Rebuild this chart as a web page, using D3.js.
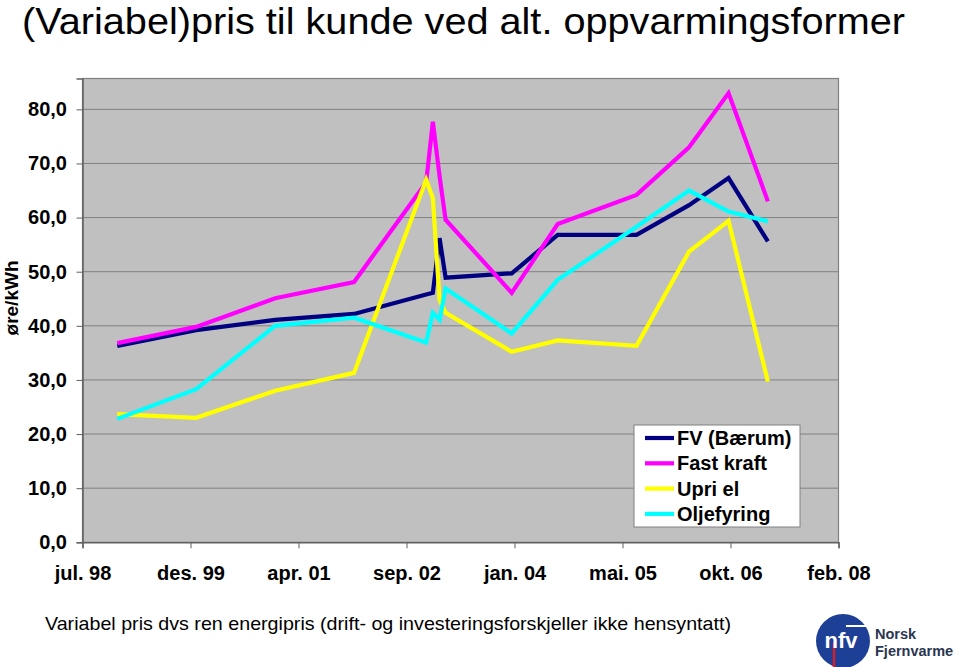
<!DOCTYPE html>
<html>
<head>
<meta charset="utf-8">
<script src="https://cdn.jsdelivr.net/npm/d3@7"></script>
<style>
  html, body { margin: 0; padding: 0; background: #fff; }
  svg { display: block; }
  text { font-family: Arial, "Liberation Sans", sans-serif; }
</style>
</head>
<body>
<svg id="chart" width="959" height="667"></svg>
<script>
// ---- Data ----
const dates = ["1999-01-01","2000-01-01","2001-01-01","2002-01-01","2002-12-01","2003-01-01","2003-02-01","2003-03-01","2004-01-01","2004-08-01","2005-08-01","2006-04-01","2006-10-01","2007-04-01"];
const fvBaerum   = [36.3, 39.2, 41.1, 42.2, 45.8, 46.1, 56.2, 48.9, 49.7, 56.8, 56.8, 62.3, 67.3, 55.6];
const fastKraft  = [36.8, 39.8, 45.1, 48.1, 66.5, 77.7, 67.7, 59.6, 46.1, 58.8, 64.2, 73.0, 83.0, 63.0];
const upriEl     = [23.7, 23.0, 28.0, 31.3, 67.0, 63.6, 44.8, 42.4, 35.2, 37.3, 36.3, 53.7, 59.4, 29.7];
const oljefyring = [22.8, 28.3, 40.0, 41.5, 36.9, 42.4, 41.1, 46.9, 38.6, 48.5, 58.3, 65.0, 61.1, 59.3];
const seriesNames = ["FV (Bærum)", "Fast kraft", "Upri el", "Oljefyring"];
const seriesColors = ["#000080", "#FF00FF", "#FFFF00", "#00FFFF"];
const tickDates = ["1998-07-24","1999-12-06","2001-04-19","2002-09-01","2004-01-14","2005-05-28","2006-10-10","2008-02-22"];
const tickLabels = ["jul. 98","des. 99","apr. 01","sep. 02","jan. 04","mai. 05","okt. 06","feb. 08"];
const yTicks = [0, 10, 20, 30, 40, 50, 60, 70, 80];
const yMax = 85.7;

const seriesValues = [fvBaerum, fastKraft, upriEl, oljefyring];
const parse = d3.utcParse("%Y-%m-%d");

const svg = d3.select("#chart");
const plot = { left: 82.5, right: 838.5, top: 78.5, bottom: 542.3 };
const labelFont = 20;

const x = d3.scaleUtc()
  .domain([parse(tickDates[0]), parse(tickDates[tickDates.length - 1])])
  .range([plot.left, plot.right]);
const y = d3.scaleLinear().domain([0, yMax]).range([plot.bottom, plot.top]);

// Title
svg.append("text")
  .attr("x", 22).attr("y", 33.5)
  .attr("font-size", 37)
  .attr("textLength", 883).attr("lengthAdjust", "spacingAndGlyphs")
  .attr("fill", "#000")
  .text("(Variabel)pris til kunde ved alt. oppvarmingsformer");

// Plot background
svg.append("rect")
  .attr("x", plot.left).attr("y", plot.top)
  .attr("width", plot.right - plot.left).attr("height", plot.bottom - plot.top)
  .attr("fill", "#C0C0C0");

// Gridlines
svg.append("g").selectAll("line").data(yTicks.filter(d => d > 0)).join("line")
  .attr("x1", plot.left).attr("x2", plot.right)
  .attr("y1", d => y(d)).attr("y2", d => y(d))
  .attr("stroke", "#808080").attr("stroke-width", 1);

// Plot border
svg.append("rect")
  .attr("x", plot.left).attr("y", plot.top)
  .attr("width", plot.right - plot.left).attr("height", plot.bottom - plot.top)
  .attr("fill", "none").attr("stroke", "#808080").attr("stroke-width", 1.2);

// Y axis
const yAxis = d3.axisLeft(y).tickValues(yTicks).tickSize(6).tickPadding(8)
  .tickFormat(d => d3.format(".1f")(d).replace(".", ","));
const gy = svg.append("g").attr("transform", `translate(${plot.left},0)`).call(yAxis);
gy.select(".domain").attr("stroke", "#606060").attr("stroke-width", 1.5);
gy.selectAll(".tick line").attr("stroke", "#606060");
gy.selectAll(".tick text").attr("font-size", labelFont).attr("font-weight", "bold")
  .attr("font-family", "Arial, 'Liberation Sans', sans-serif").attr("fill", "#000")
  .attr("x", -15.5);

// X axis
const xAxis = d3.axisBottom(x).tickValues(tickDates.map(parse)).tickSize(6).tickPadding(18)
  .tickFormat((d, i) => tickLabels[i]);
const gx = svg.append("g").attr("transform", `translate(0,${plot.bottom})`).call(xAxis);
gx.select(".domain").attr("stroke", "#606060").attr("stroke-width", 1.5);
gx.selectAll(".tick line").attr("stroke", "#606060");
gx.selectAll(".tick text").attr("font-size", labelFont).attr("font-weight", "bold")
  .attr("font-family", "Arial, 'Liberation Sans', sans-serif").attr("fill", "#000");

// Y axis title
svg.append("text")
  .attr("transform", "translate(17.5,298) rotate(-90)")
  .attr("text-anchor", "middle")
  .attr("font-size", 19).attr("font-weight", "bold")
  .text("øre/kWh");

// Lines
const line = d3.line()
  .x((d, i) => x(parse(dates[i])))
  .y(d => y(d));
seriesValues.forEach((vals, k) => {
  svg.append("path")
    .datum(vals)
    .attr("d", line)
    .attr("fill", "none")
    .attr("stroke", seriesColors[k])
    .attr("stroke-width", 4.2)
    .attr("stroke-linejoin", "miter")
    .attr("stroke-miterlimit", 4);
});

// Legend
const lg = svg.append("g").attr("transform", "translate(634,425)");
lg.append("rect").attr("width", 166).attr("height", 102)
  .attr("fill", "#fff").attr("stroke", "#808080").attr("stroke-width", 1);
seriesNames.forEach((name, k) => {
  const yy = 13 + k * 25.3;
  lg.append("line").attr("x1", 11).attr("x2", 40).attr("y1", yy).attr("y2", yy)
    .attr("stroke", seriesColors[k]).attr("stroke-width", 4.2);
  lg.append("text").attr("x", 43).attr("y", yy + 7)
    .attr("font-size", labelFont).attr("font-weight", "bold").text(name);
});

// Footnote
svg.append("text")
  .attr("x", 45).attr("y", 630)
  .attr("font-size", 19)
  .attr("textLength", 686).attr("lengthAdjust", "spacingAndGlyphs")
  .text("Variabel pris dvs ren energipris (drift- og investeringsforskjeller ikke hensyntatt)");

// Logo
const logo = svg.append("g");
logo.append("circle").attr("cx", 843).attr("cy", 641).attr("r", 27).attr("fill", "#1d3f95");
logo.append("line").attr("x1", 846).attr("x2", 870).attr("y1", 626).attr("y2", 626)
  .attr("stroke", "#fff").attr("stroke-width", 2);
logo.append("line").attr("x1", 834).attr("x2", 834).attr("y1", 642).attr("y2", 667)
  .attr("stroke", "#d0202a").attr("stroke-width", 2.5);
logo.append("text").attr("x", 841).attr("y", 648).attr("text-anchor", "middle")
  .attr("font-size", 22).attr("font-weight", "bold").attr("fill", "#fff")
  .attr("font-family", "'Liberation Sans Narrow', Arial, sans-serif").text("nfv");
logo.append("text").attr("x", 875).attr("y", 639).attr("font-size", 14.5).attr("font-weight", "bold")
  .attr("fill", "#2a3550").text("Norsk");
logo.append("text").attr("x", 875).attr("y", 656).attr("font-size", 14.5).attr("font-weight", "bold")
  .attr("fill", "#2a3550").text("Fjernvarme");
</script>
</body>
</html>
